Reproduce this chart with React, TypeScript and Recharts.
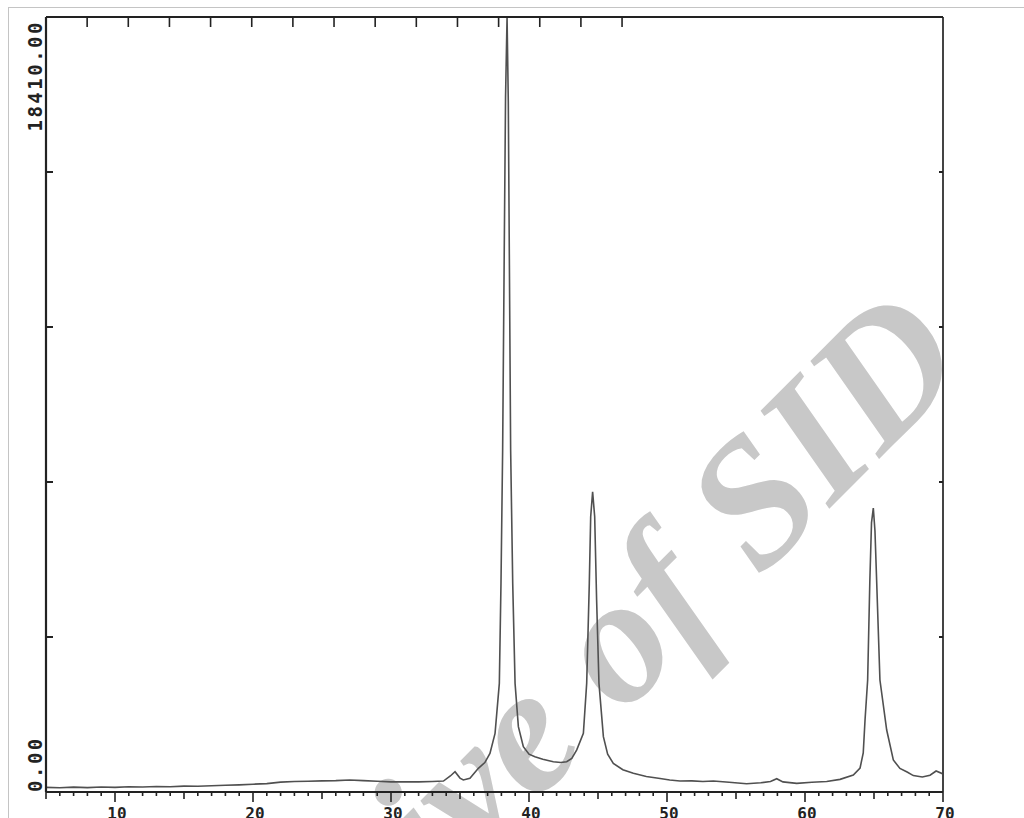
import { Line, LineChart, XAxis, YAxis } from "recharts";

// 2-theta (deg) and counts
const twoTheta = [
  5, 6, 7, 8, 9, 10, 11, 12, 13, 14, 15, 16, 17, 18, 19, 20, 21, 22, 23, 24,
  25, 26, 27, 28, 29, 30, 31, 32, 33, 33.8, 34.3, 34.64, 35.0, 35.24, 35.72,
  36.33, 36.8, 37.17, 37.54, 37.85, 37.97, 38.09, 38.2, 38.3, 38.41, 38.5,
  38.58, 38.67, 38.82, 38.99, 39.23, 39.59, 40.0, 40.43, 41.0, 41.76, 42.3,
  42.73, 43.1, 43.46, 43.94, 44.18, 44.37, 44.47, 44.61, 44.76, 44.9, 45.07,
  45.39, 45.7, 46.11, 46.8, 47.56, 48.5, 49.5, 50.2, 50.94, 51.8, 52.6, 53.36,
  54.5, 55.77, 56.8, 57.5, 57.95, 58.4, 59.4, 60.5, 61.57, 62.54, 63.5, 63.99,
  64.22, 64.35, 64.54, 64.7, 64.82, 64.95, 65.07, 65.19, 65.43, 65.92, 66.4,
  66.88, 67.4, 67.85, 68.5, 69.06, 69.5, 70,
];
const intensity = [
  110, 100, 115, 105, 120, 110, 125, 120, 130, 125, 140, 135, 150, 160, 170,
  185, 200, 235, 250, 255, 265, 270, 285, 270, 255, 240, 245, 240, 250, 260,
  380, 482, 330, 285, 325, 562, 700, 918, 1393, 2581, 4956, 8123, 12600,
  16500, 18410, 16400, 12500, 8123, 4956, 2581, 1552, 1077, 900, 839, 780,
  720, 700, 720, 800, 1000, 1393, 2581, 4956, 6539, 7133, 6539, 4560, 2581,
  1314, 900, 681, 530, 443, 370, 320, 285, 262, 265, 250, 260, 230, 197, 220,
  250, 316, 240, 205, 230, 250, 300, 404, 570, 926, 1710, 2660, 5035, 6400,
  6745, 6200, 5035, 2660, 1473, 760, 560, 475, 390, 356, 400, 499, 430, 333,
];

const yTicks = [0, 3682, 7364, 11046, 14728, 18410];
const yLabels: Record<number, string> = { 0: "0.00", 18410: "18410.00" };
const topTicks = [5, 10, 15, 20, 25, 30, 35, 40, 45, 50, 55, 60, 65, 70];
const bottomTicks = Array.from({ length: 66 }, (_, i) => 5 + i);

const data = twoTheta.map((t, i) => ({ t, v: intensity[i] }));

const INK = "#222";
const FONT = "'DejaVu Sans Mono', monospace";

function BottomTick({ x, y, payload }: any) {
  const v = payload.value;
  const len = v % 10 === 0 ? 10 : v % 5 === 0 ? 7 : 4;
  return (
    <g>
      <line x1={x} x2={x} y1={y} y2={y + len} stroke={INK} strokeWidth={1.6} />
      {v % 10 === 0 && (
        <text x={x + 2} y={y + 27} textAnchor="middle" fontFamily={FONT} fontWeight="bold" fontSize={16} fill={INK}>
          {v}
        </text>
      )}
    </g>
  );
}

function TopTick({ x, y }: any) {
  return <line x1={x} x2={x} y1={y} y2={y + 10} stroke={INK} strokeWidth={1.6} />;
}

function LeftTick({ x, y, payload }: any) {
  const label = yLabels[payload.value];
  const ty = payload.value === 0 ? y : y + 3;
  return (
    <g>
      <line x1={x} x2={x + 7} y1={y} y2={y} stroke={INK} strokeWidth={2} />
      {label && (
        <text
          x={41.5}
          y={ty}
          transform={`rotate(-90 41.5 ${ty})`}
          textAnchor={payload.value === 0 ? "start" : "end"}
          fontFamily={FONT}
          fontWeight="bold"
          fontSize={19}
          letterSpacing={2.5}
          fill={INK}
        >
          {label}
        </text>
      )}
    </g>
  );
}

function RightTick({ x, y }: any) {
  return <line x1={x} x2={x - 4} y1={y} y2={y} stroke={INK} strokeWidth={2} />;
}

export default function App() {
  return (
    <div style={{ position: "relative", width: 1024, height: 818, overflow: "hidden", background: "#fff" }}>
      <style>{`body{margin:0;overflow:hidden}`}</style>
      <div style={{ position: "absolute", left: 8, top: 7, right: 0, height: 1, background: "#c4c4c4" }} />
      <div style={{ position: "absolute", left: 8, top: 7, bottom: 0, width: 1, background: "#c4c4c4" }} />
      <svg width={1024} height={818} style={{ position: "absolute", left: 0, top: 0 }}>
        <text
          x={972}
          y={366}
          transform="rotate(-45 972 366)"
          textAnchor="end"
          fontFamily="'Liberation Serif', serif"
          fontWeight="bold"
          fontStyle="italic"
          fontSize={180}
          fill="#c8c8c8"
        >
          Archive of SID
        </text>
      </svg>
      <div style={{ position: "absolute", left: 0, top: 0 }}>
        <LineChart width={1024} height={818} data={data} margin={{ top: 16, right: 80, bottom: 0, left: 0 }}>
          <XAxis
            dataKey="t"
            type="number"
            domain={[5, 70]}
            allowDataOverflow
            ticks={bottomTicks}
            interval={0}
            height={26}
            tickSize={0}
            tickMargin={0}
            tick={<BottomTick />}
            axisLine={{ stroke: INK, strokeWidth: 2 }}
          />
          <XAxis
            xAxisId="top"
            orientation="top"
            type="number"
            domain={[5, 70]}
            allowDataOverflow
            ticks={topTicks}
            interval={0}
            height={1}
            tickSize={0}
            tickMargin={0}
            tick={<TopTick />}
            axisLine={{ stroke: INK, strokeWidth: 2 }}
          />
          <YAxis
            type="number"
            domain={[0, 18410]}
            allowDataOverflow
            ticks={yTicks}
            interval={0}
            width={46}
            tickSize={0}
            tickMargin={0}
            tick={<LeftTick />}
            axisLine={{ stroke: INK, strokeWidth: 2.2 }}
          />
          <YAxis
            yAxisId="right"
            orientation="right"
            type="number"
            domain={[0, 18410]}
            allowDataOverflow
            ticks={yTicks}
            interval={0}
            width={1}
            tickSize={0}
            tickMargin={0}
            tick={<RightTick />}
            axisLine={{ stroke: "#444", strokeWidth: 2 }}
          />
          <Line
            type="linear"
            dataKey="v"
            stroke="#505050"
            strokeWidth={1.6}
            dot={false}
            isAnimationActive={false}
          />
        </LineChart>
      </div>
    </div>
  );
}
